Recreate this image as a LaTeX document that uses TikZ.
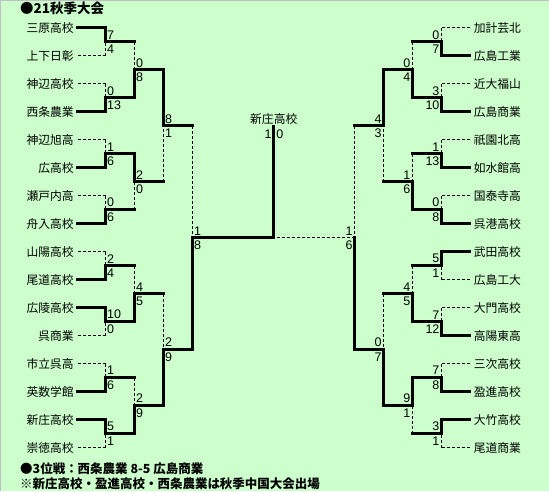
\documentclass[tikz,border=0pt]{standalone}
\usepackage{fontspec}
\setmainfont{Liberation Sans}
\newfontfamily\jpfont{Noto Sans CJK JP}
\usetikzlibrary{positioning,calc}
\definecolor{BoardGreen}{RGB}{204,255,204}
\definecolor{FrameGray}{RGB}{192,192,192}
\tikzset{
  win/.style={draw=black,line width=3pt,line cap=rect},
  lose/.style={draw=black,line width=1pt,dash pattern=on 3pt off 2pt},
  team/.style={font=\jpfont\fontsize{11.8}{12}\selectfont,inner xsep=4pt,inner ysep=0pt},
  score/.style={font=\fontsize{12.5}{13}\selectfont,inner sep=0pt},
  headline/.style={font=\jpfont\bfseries\fontsize{12.5}{13}\selectfont,inner sep=0pt,anchor=west},
}

\begin{document}
\begin{tikzpicture}[x=1pt,y=-1pt]
  \fill[BoardGreen] (0,0) rectangle (549,491);
  \draw[FrameGray,line width=1pt] (0.5,491) -- (0.5,0.5) -- (549,0.5);
  \useasboundingbox (0,0) rectangle (549,491);
  % teams, left and right
  \foreach \k/\lt/\rt in {1/三原高校/加計芸北, 2/上下日彰/広島工業, 3/神辺高校/近大福山,
      4/西条農業/広島商業, 5/神辺旭高/祇園北高, 6/広高校/如水館高, 7/瀬戸内高/国泰寺高,
      8/舟入高校/呉港高校, 9/山陽高校/武田高校, 10/尾道高校/広島工大, 11/広陵高校/大門高校,
      12/呉商業/高陽東高, 13/市立呉高/三次高校, 14/英数学館/盈進高校, 15/新庄高校/大竹高校,
      16/崇徳高校/尾道商業} {
    \node[team,anchor=east] (l0-\k) at (78,28*\k) {\lt};
    \node[team,anchor=west] (r0-\k) at (470,28*\k) {\rt};
  }
  % rounds: side/round/scores (upper/lower)
  \foreach \s/\rd/\res in {
      l/1/{7/4,0/13,1/6,0/6,2/4,10/0,1/6,5/1},
      l/2/{0/8,2/0,4/5,2/9},
      l/3/{8/1,2/9},
      l/4/{1/8},
      r/1/{0/7,3/10,1/13,0/8,5/1,7/12,7/8,3/1},
      r/2/{0/4,1/6,4/5,9/1},
      r/3/{4/3,0/7},
      r/4/{1/6}} {
    \pgfmathtruncatemacro\rp{\rd-1}
    \if\s l
      \pgfmathsetmacro\cx{77+29*\rd}\pgfmathsetmacro\sx{\cx+1}\def\sanc{west}
    \else
      \pgfmathsetmacro\cx{471-29*\rd}\pgfmathsetmacro\sx{\cx-2}\def\sanc{east}
    \fi
    \foreach \up/\dn [count=\m] in \res {
      \pgfmathsetmacro\yc{28+14*(2^\rd-1)+28*2^\rd*(\m-1)}
      \pgfmathsetmacro\dy{14*2^(\rd-1)}
      \pgfmathtruncatemacro\ka{2*\m-1}
      \pgfmathtruncatemacro\kb{2*\m}
      \coordinate (\s\rd-\m) at (\cx,\yc);
      \coordinate (\s\rd-\m t) at (\cx,\yc-\dy);
      \coordinate (\s\rd-\m b) at (\cx,\yc+\dy);
      \ifnum\up>\dn\relax \def\tst{win}\def\bst{lose}\else \def\tst{lose}\def\bst{win}\fi
      \ifnum\rd=1 \edef\ist{\tst}\edef\jst{\bst}\else \def\ist{win}\def\jst{win}\fi
      \draw[\ist] (\s\rp-\ka) -- (\s\rd-\m t);
      \draw[\jst] (\s\rp-\kb) -- (\s\rd-\m b);
      \draw[\tst] (\s\rd-\m t) -- (\s\rd-\m);
      \draw[\bst] (\s\rd-\m b) -- (\s\rd-\m);
      \node[score,anchor=south \sanc] (\s\rd-\m su) at (\sx,\yc-2.5) {\up};
      \node[score,anchor=north \sanc] (\s\rd-\m sd) at (\sx,\yc+3) {\dn};
    }
  }
  % final
  \coordinate (fin) at (274,238);
  \coordinate (crown) at (274,127);
  \draw[win] (l4-1) -- (fin) -- (crown);
  \draw[lose] (r4-1) -- (fin);
  \node[team,anchor=south,inner xsep=0pt] (champ) at (274,124.5) {新庄高校};
  \node[score,anchor=north east] (finl) at (272,130) {1};
  \node[score,anchor=north west] (finr) at (276.5,130) {0};
  % headings
  \node[headline,font=\jpfont\bfseries\fontsize{13.5}{14}\selectfont] (title) at (20,8.5) {●21秋季大会};
  \node[headline] (third) at (20,469) {●3位戦：西条農業\ 8-5\ 広島商業};
  \node[headline] (note) at (20,484) {※新庄高校・盈進高校・西条農業は秋季中国大会出場};
\end{tikzpicture}
\end{document}
